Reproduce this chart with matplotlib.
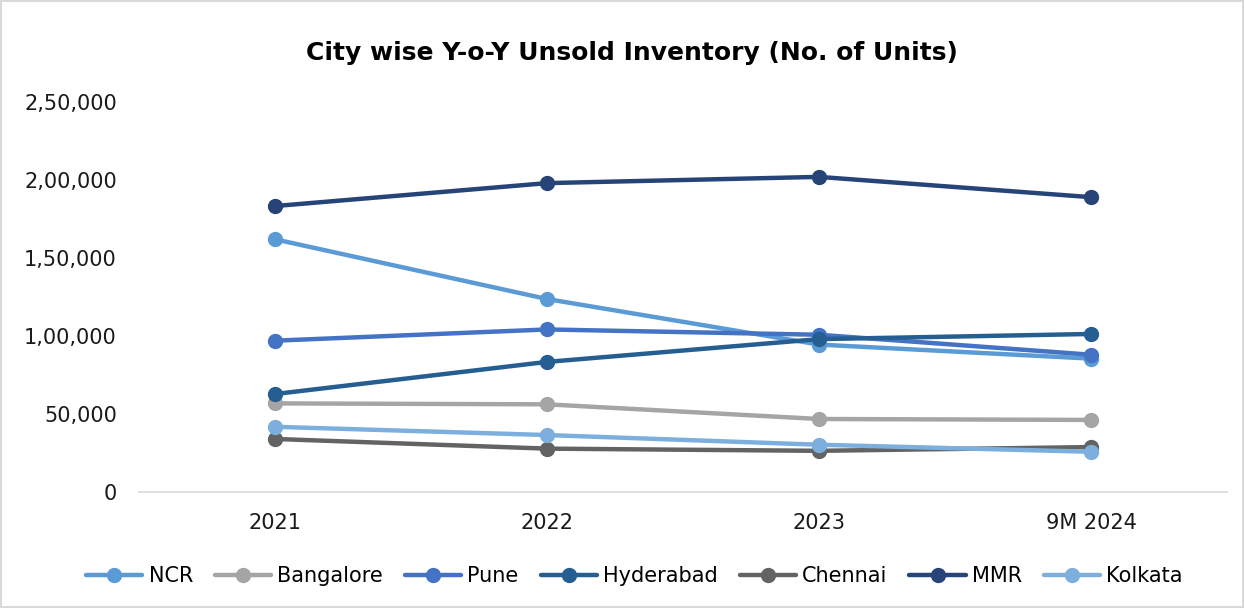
import matplotlib
matplotlib.use("Agg")
import matplotlib.pyplot as plt
from matplotlib.ticker import FuncFormatter

years = ["2021", "2022", "2023", "9M 2024"]

ncr = [162000, 123700, 94500, 85500]
bangalore = [56800, 56200, 46800, 46200]
pune = [97000, 104200, 100800, 88000]
hyderabad = [62800, 83400, 98000, 101300]
chennai = [34000, 27800, 26400, 28800]
mmr = [183300, 198000, 202000, 189000]
kolkata = [41800, 36500, 30300, 25800]

series = [
    ("NCR", ncr, "#5B9BD5"),
    ("Bangalore", bangalore, "#A5A5A5"),
    ("Pune", pune, "#4472C4"),
    ("Hyderabad", hyderabad, "#255E91"),
    ("Chennai", chennai, "#636363"),
    ("MMR", mmr, "#264478"),
    ("Kolkata", kolkata, "#7CAFDD"),
]


def indian_fmt(v, pos):
    # lakh-style grouping: 2,50,000
    v = int(round(v))
    if v == 0:
        return "0"
    s = str(v)
    last3 = s[-3:]
    rest = s[:-3]
    parts = []
    while len(rest) > 2:
        parts.insert(0, rest[-2:])
        rest = rest[:-2]
    if rest:
        parts.insert(0, rest)
    return ",".join(parts + [last3])


plt.rcParams["font.family"] = ["DejaVu Sans"]

fig = plt.figure(figsize=(12.44, 6.08), dpi=100)
fig.patch.set_edgecolor("#D9D9D9")
fig.patch.set_linewidth(1.5)
ax = fig.add_axes([139 / 1244, 1 - 492 / 608, (1227 - 139) / 1244, (492 - 102) / 608])

x = range(len(years))
for name, vals, color in series:
    ax.plot(x, vals, "-o", color=color, lw=3.2, markersize=10, label=name,
            solid_capstyle="round")

ax.set_xlim(-0.5, len(years) - 0.5)
ax.set_ylim(0, 250000)
ax.set_yticks(range(0, 250001, 50000))
ax.yaxis.set_major_formatter(FuncFormatter(indian_fmt))
ax.set_xticks(list(x))
ax.set_xticklabels(years)

for side in ("top", "right", "left"):
    ax.spines[side].set_visible(False)
ax.spines["bottom"].set_color("#D9D9D9")
ax.spines["bottom"].set_linewidth(1.2)
ax.tick_params(axis="both", length=0, labelsize=15, colors="#1a1a1a")
ax.tick_params(axis="y", pad=16)
ax.tick_params(axis="x", pad=15)

fig.text(0.508, 0.913, "City wise Y-o-Y Unsold Inventory (No. of Units)",
         ha="center", va="center", fontsize=18, fontweight="bold")

fig.legend(loc="center", bbox_to_anchor=(0.51, 0.052), ncol=7, frameon=False,
           fontsize=15, handlelength=2.7, handletextpad=0.3, columnspacing=1.05,
           markerscale=1.0)

plt.savefig("out.png", dpi=100, edgecolor=fig.get_edgecolor())
